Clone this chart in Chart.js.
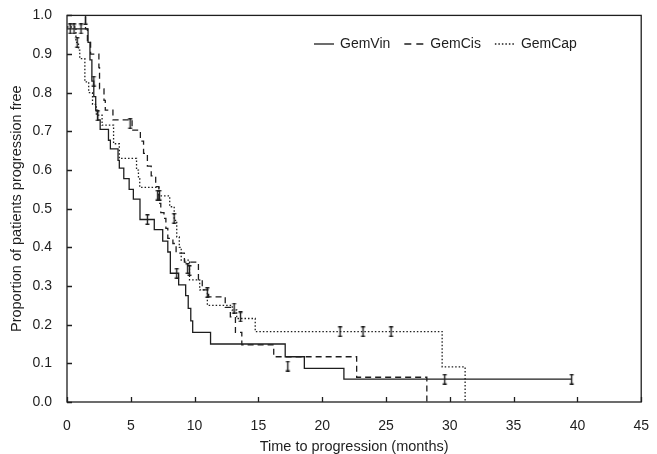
<!DOCTYPE html>
<html>
<head>
<meta charset="utf-8">
<script src="https://cdn.jsdelivr.net/npm/chart.js@4.4.1/dist/chart.umd.min.js"></script>
<style>
  html, body { margin: 0; padding: 0; background: #fff; }
  #wrap { width: 657px; height: 454px; }
</style>
</head>
<body>
<div id="wrap"><canvas id="km"></canvas></div>
<script>
// Kaplan-Meier steps: time (months) and proportion progression free after each drop
const vinTime = [0, 1.65, 1.8, 1.95, 2.1, 2.25, 2.4, 2.6, 3.25, 3.4, 4.0, 4.1, 4.45, 4.87, 5.2, 5.72, 6.84, 7.5, 7.9, 8.1, 8.75, 9.3, 9.5, 9.7, 9.85, 11.25, 17.1, 18.6, 21.7, 39.55];
const vinSurv = [0.965, 0.93, 0.885, 0.83, 0.79, 0.755, 0.73, 0.705, 0.677, 0.655, 0.625, 0.605, 0.578, 0.55, 0.525, 0.472, 0.446, 0.416, 0.388, 0.333, 0.303, 0.275, 0.242, 0.21, 0.18, 0.15, 0.117, 0.087, 0.059, 0.059];

const cisTime = [0, 1.45, 1.6, 1.85, 2.5, 2.55, 2.9, 3.0, 3.6, 5.1, 5.75, 6.0, 6.3, 6.6, 6.95, 7.2, 7.35, 7.6, 7.75, 7.9, 8.3, 8.55, 9.2, 10.3, 10.6, 11.1, 12.4, 12.8, 13.2, 13.7, 16.2, 22.7, 28.2];
const cisSurv = [1.0, 0.965, 0.935, 0.9, 0.865, 0.81, 0.78, 0.755, 0.73, 0.703, 0.675, 0.643, 0.61, 0.585, 0.557, 0.514, 0.49, 0.475, 0.449, 0.423, 0.41, 0.385, 0.362, 0.316, 0.29, 0.272, 0.245, 0.22, 0.18, 0.148, 0.117, 0.064, 0.0];

const capTime = [0, 0.7, 0.9, 1.0, 1.4, 1.7, 2.0, 2.3, 2.75, 3.65, 4.1, 5.45, 5.6, 5.7, 7.2, 8.05, 8.4, 8.6, 8.8, 8.95, 9.6, 10.4, 11.0, 12.95, 13.3, 14.75, 29.4, 31.2];
const capSurv = [0.97, 0.93, 0.91, 0.888, 0.828, 0.8, 0.77, 0.742, 0.716, 0.668, 0.63, 0.6, 0.578, 0.555, 0.533, 0.505, 0.47, 0.427, 0.4, 0.367, 0.316, 0.29, 0.25, 0.238, 0.216, 0.182, 0.091, 0.0];

// censored observations
const vinCensTime = [0.25, 0.55, 2.1, 2.4, 6.3, 8.6, 29.6, 39.55];
const vinCensSurv = [0.965, 0.965, 0.83, 0.74, 0.472, 0.333, 0.059, 0.059];
const cisCensTime = [1.1, 1.45, 4.95, 7.1, 9.45, 17.3];
const cisCensSurv = [0.965, 0.99, 0.72, 0.535, 0.345, 0.093];
const capCensTime = [0.8, 7.25, 8.4, 9.6, 11.0, 13.1, 13.6, 21.4, 23.2, 25.4];
const capCensSurv = [0.93, 0.535, 0.475, 0.34, 0.283, 0.243, 0.22, 0.182, 0.182, 0.182];

const seriesNames = ["GemVin", "GemCis", "GemCap"];
const dashes = [[], [6, 4], [1.5, 2]];

const ink = "#1e1e1e";
const font = "'Liberation Sans', Arial, Helvetica, sans-serif";

const toPts = (xs, ys) => xs.map((t, i) => ({ x: t, y: ys[i] }));

// "I" shaped censor mark
const mark = document.createElement("canvas");
mark.width = 7;
mark.height = 11;
(() => {
  const c = mark.getContext("2d");
  c.strokeStyle = ink;
  c.lineWidth = 1.4;
  c.beginPath();
  c.moveTo(3.5, 0.5); c.lineTo(3.5, 10.5);
  c.moveTo(1.5, 0.8); c.lineTo(5.5, 0.8);
  c.moveTo(1.5, 10.2); c.lineTo(5.5, 10.2);
  c.stroke();
})();

const stepSet = (label, xs, ys, dash) => ({
  label,
  data: toPts(xs, ys),
  stepped: "before",
  borderColor: ink,
  borderWidth: 1.3,
  borderDash: dash,
  pointRadius: 0,
  fill: false
});

const censSet = (xs, ys) => ({
  label: "censored",
  data: toPts(xs, ys),
  showLine: false,
  pointStyle: mark,
  pointRadius: 5
});

const frame = {
  id: "frame",
  afterDraw(chart) {
    const { ctx, chartArea: a, scales } = chart;
    ctx.save();
    ctx.strokeStyle = ink;
    ctx.lineWidth = 1.3;
    ctx.strokeRect(a.left, a.top, a.right - a.left, a.bottom - a.top);
    ctx.beginPath();
    scales.x.ticks.forEach((t) => {
      const px = Math.round(scales.x.getPixelForValue(t.value)) + 0.5;
      ctx.moveTo(px, a.bottom);
      ctx.lineTo(px, a.bottom - 5);
    });
    scales.y.ticks.forEach((t) => {
      const py = Math.round(scales.y.getPixelForValue(t.value)) + 0.5;
      ctx.moveTo(a.left, py);
      ctx.lineTo(a.left + 5, py);
    });
    ctx.stroke();

    // legend inside the plot, top right
    ctx.font = "14px " + font;
    ctx.fillStyle = ink;
    ctx.textBaseline = "middle";
    let x = 314;
    const y = 44;
    seriesNames.forEach((name, i) => {
      ctx.beginPath();
      ctx.setLineDash(i === 1 ? [7, 5] : dashes[i]);
      ctx.lineWidth = 1.3;
      ctx.moveTo(x, y);
      ctx.lineTo(x + 20, y);
      ctx.stroke();
      ctx.setLineDash([]);
      ctx.fillText(name, x + 26, y);
      x += 26 + ctx.measureText(name).width + 14;
    });
    ctx.restore();
  }
};

new Chart(document.getElementById("km"), {
  type: "line",
  data: {
    datasets: [
      stepSet(seriesNames[0], vinTime, vinSurv, dashes[0]),
      stepSet(seriesNames[1], cisTime, cisSurv, dashes[1]),
      stepSet(seriesNames[2], capTime, capSurv, dashes[2]),
      censSet(vinCensTime, vinCensSurv),
      censSet(cisCensTime, cisCensSurv),
      censSet(capCensTime, capCensSurv)
    ]
  },
  options: {
    responsive: true,
    maintainAspectRatio: false,
    animation: false,
    layout: { padding: { left: 0, right: 11, top: 15, bottom: 0 } },
    plugins: {
      legend: { display: false },
      tooltip: { enabled: false }
    },
    scales: {
      x: {
        type: "linear",
        min: 0,
        max: 45,
        grid: { display: false },
        border: { display: false },
        ticks: { stepSize: 5, color: ink, padding: 8, font: { family: font, size: 14 } },
        title: {
          display: true,
          text: "Time to progression (months)",
          color: ink,
          font: { family: font, size: 14.5 },
          padding: { top: 0, bottom: -2 }
        },
        afterFit: (s) => { s.height = 52; }
      },
      y: {
        min: 0,
        max: 1,
        grid: { display: false },
        border: { display: false },
        ticks: {
          stepSize: 0.1,
          color: ink,
          padding: 7,
          font: { family: font, size: 14 },
          callback: (v) => v.toFixed(1)
        },
        title: {
          display: true,
          text: "Proportion of patients progression free",
          color: ink,
          font: { family: font, size: 14.5 },
          padding: { top: 8, bottom: 0 }
        },
        afterFit: (s) => { s.width = 67; }
      }
    }
  },
  plugins: [frame]
});
</script>
</body>
</html>
